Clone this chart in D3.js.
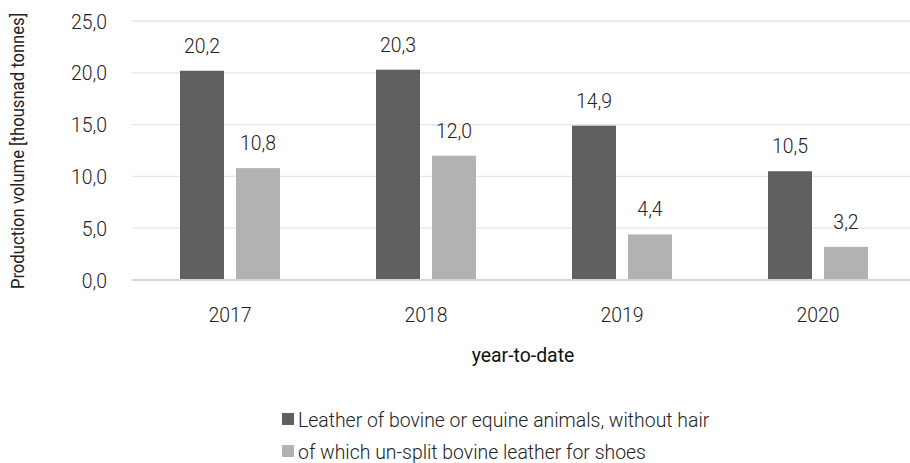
<!DOCTYPE html>
<html><head><meta charset="utf-8">
<script src="https://cdn.jsdelivr.net/npm/d3@7"></script>
<style>
body{margin:0;background:#fff;}
text{font-family:Roboto,"Noto Sans",sans-serif;font-weight:300;fill:#222;}
</style></head>
<body><svg id="c" width="910" height="463"></svg>
<script>
const categories = ["2017","2018","2019","2020"];
const seriesNames = ["Leather of bovine or equine animals, without hair","of which un-split bovine leather for shoes"];
const seriesA = [20.2,20.3,14.9,10.5];
const seriesB = [10.8,12.0,4.4,3.2];
const yTicks = [0,5,10,15,20,25];
const colors = ["#606060","#b2b2b2"];
const SX = 0.925;
const FS = 21;

const svg = d3.select("#c");
const x = d3.scaleBand().domain(categories).range([132,916]).paddingInner(0).paddingOuter(0);
const y = d3.scaleLinear().domain([0,25]).range([280,21]);
const fmt = v => d3.format(".1f")(v).replace(".",",");

function txt(g, xx, yy, s, size, anchor, extra){
  const t = g.append("text").attr("transform",`translate(${xx},${yy}) scale(${SX},1)`)
    .attr("text-anchor",anchor).style("font-size",size+"px").text(s);
  if(extra) extra(t);
  return t;
}

// gridlines
svg.append("g").selectAll("line").data(yTicks.filter(d=>d>0)).join("line")
  .attr("x1",132).attr("x2",910).attr("y1",d=>y(d)).attr("y2",d=>y(d))
  .attr("stroke","#e6e6e6").attr("stroke-width",1.3);
// tick labels
const yl = svg.append("g");
yTicks.forEach(d=>txt(yl,107,y(d)+7.5,fmt(d),FS,"end"));

// bars
const bw = 44, gap = 12;
const bars = svg.append("g");
const data = categories.map((c,i)=>({c,vals:[seriesA[i],seriesB[i]]}));
data.forEach(d=>{
  const cx = x(d.c)+x.bandwidth()/2;
  d.vals.forEach((v,j)=>{
    const bx = j===0 ? cx - gap/2 - bw : cx + gap/2;
    bars.append("rect").attr("x",bx).attr("y",y(v)).attr("width",bw).attr("height",y(0)-y(v)).attr("fill",colors[j]);
    txt(bars,bx+bw/2,y(v)-18,fmt(v),FS,"middle");
  });
});
// baseline
svg.append("line").attr("x1",132).attr("x2",910).attr("y1",y(0)).attr("y2",y(0))
  .attr("stroke","#d4d4d4").attr("stroke-width",2);

// x axis labels
const xg = svg.append("g");
categories.forEach(c=>txt(xg,x(c)+x.bandwidth()/2,322,c,FS,"middle"));

// axis titles
txt(svg,523,362,"year-to-date",FS,"middle",t=>t.style("font-weight",400).style("fill","#111"));
svg.append("text").attr("transform",`translate(24,151) rotate(-90) scale(${SX},1)`)
  .attr("text-anchor","middle").style("font-size","18px").style("font-weight",400)
  .text("Production volume [thousnad tonnes]");

// legend
const lg = svg.append("g");
seriesNames.forEach((n,i)=>{
  const ly = 419 + i*32;
  lg.append("rect").attr("x",282).attr("y",ly-6).attr("width",12).attr("height",12).attr("fill",colors[i]);
  txt(lg,298,ly+7.5,n,FS,"start");
});
</script></body></html>
